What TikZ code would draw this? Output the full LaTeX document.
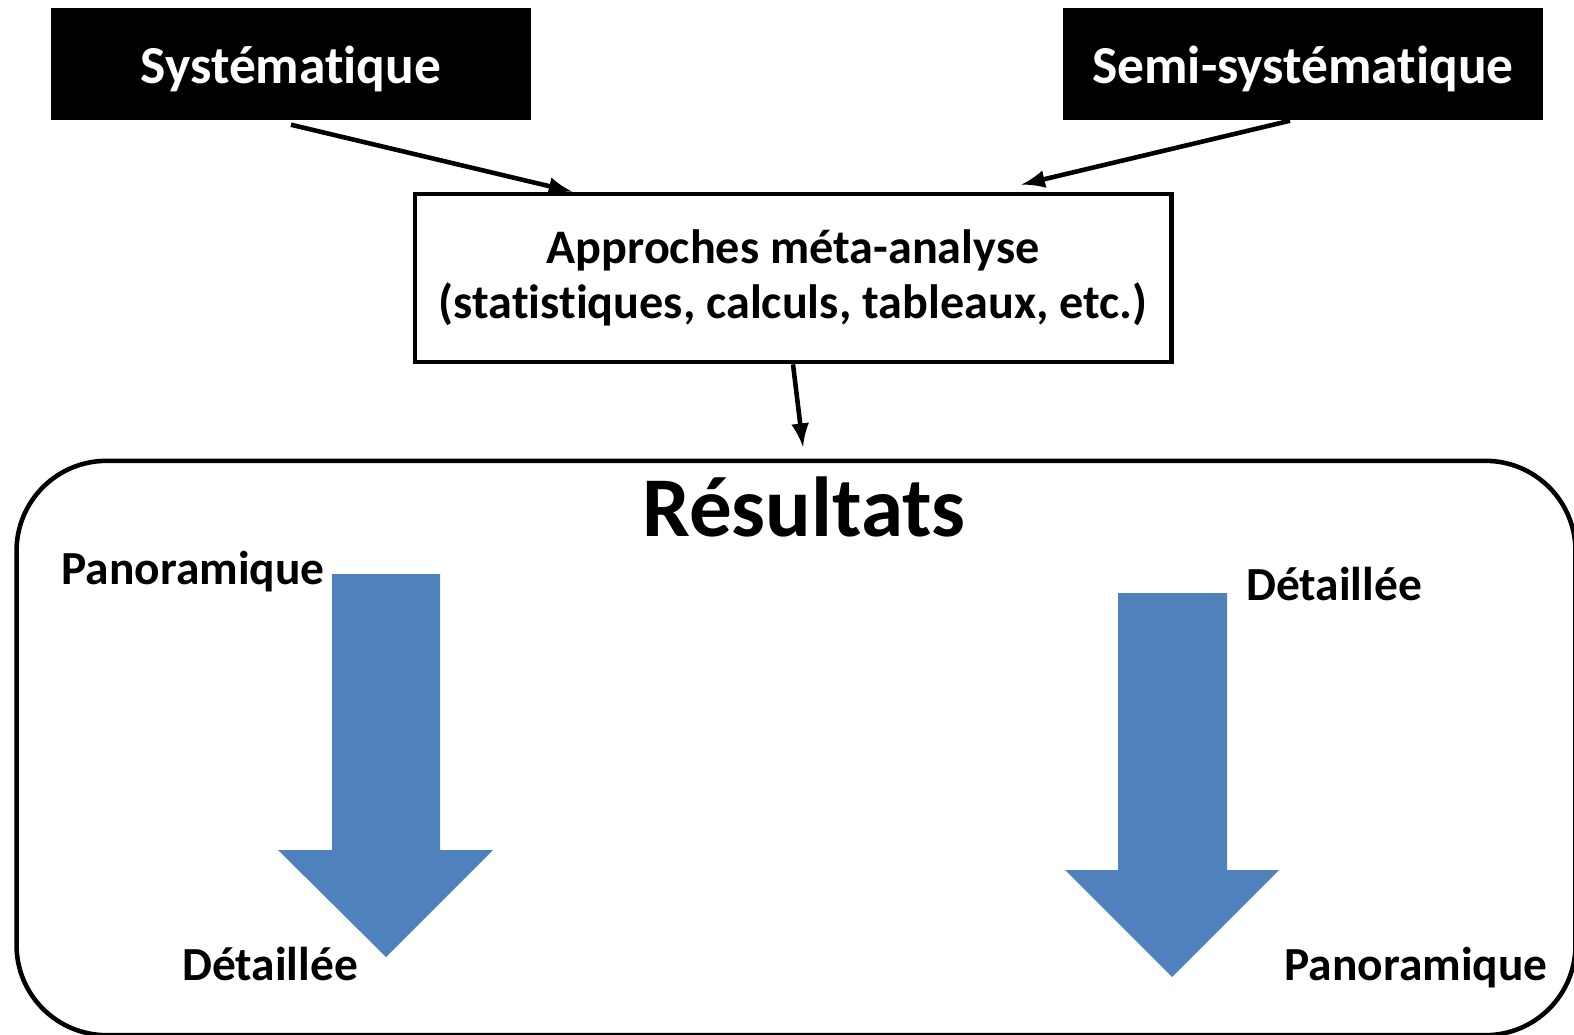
\documentclass[tikz,border=0pt]{standalone}
\usepackage{fontspec}
\setmainfont{Carlito}[Ligatures=NoCommon]
\usetikzlibrary{positioning,calc}
\definecolor{flecheblue}{HTML}{4F81BD}
\tikzset{
  titlebox/.style={fill=black, text=white, minimum width=4.8cm, minimum height=1.12cm,
    text height=0.5cm, text depth=0.12cm, font=\fontsize{15.2}{18}\selectfont\bfseries},
  metabox/.style={draw=black, line width=1.3pt, minimum width=7.56cm, minimum height=1.68cm,
    align=center, font=\fontsize{13.7}{15.8}\selectfont\bfseries},
  resbox/.style={draw=black, line width=1.3pt, rounded corners=0.9cm,
    minimum width=15.58cm, minimum height=5.74cm},
  label/.style={anchor=base, font=\fontsize{13.5}{16}\selectfont\bfseries},
  link/.style={line width=1.3pt, -latex},
}
\begin{document}
\begin{tikzpicture}[x=0.01cm, y=-0.01cm]
  \useasboundingbox (0,0) rectangle (1574,1034);

  \node[titlebox] (sys) at (291,64) {Systématique};
  \node[titlebox] (semi) at (1303,64) {Semi-systématique};
  \node[metabox] (meta) at (793,278) {Approches méta-analyse\\(statistiques, calculs, tableaux, etc.)};
  \node[resbox] (res) at (796,748) {};
  \node[anchor=base, font=\fontsize{24.2}{28}\selectfont\bfseries] (restitle) at (804,536) {Résultats};

  \coordinate (meta-in1) at ($(meta.north west)!0.21!(meta.north east)$);
  \coordinate (meta-in2) at ([yshift=0.07cm]$(meta.north west)!0.8!(meta.north east)$);
  \coordinate (res-in) at (803,447);

  \draw[link] ([yshift=-0.04cm]sys.south) -- (meta-in1);
  \draw[link] ([xshift=-0.13cm]semi.south) -- (meta-in2);
  \draw[link] (meta.south) -- (res-in);

  % grosses fleches
  \fill[flecheblue] (332,574) -- (440,574) -- (440,850) -- (493,850) -- (386,957)
    -- (278,850) -- (332,850) -- cycle;
  \fill[flecheblue] (1118,593) -- (1227,593) -- (1227,870) -- (1279,870) -- (1172,977)
    -- (1065,870) -- (1118,870) -- cycle;

  \node[label] (pano1) at (193,584) {Panoramique};
  \node[label] (det1) at (270,980) {Détaillée};
  \node[label] (det2) at (1334,600) {Détaillée};
  \node[label] (pano2) at (1416,980) {Panoramique};
\end{tikzpicture}
\end{document}
